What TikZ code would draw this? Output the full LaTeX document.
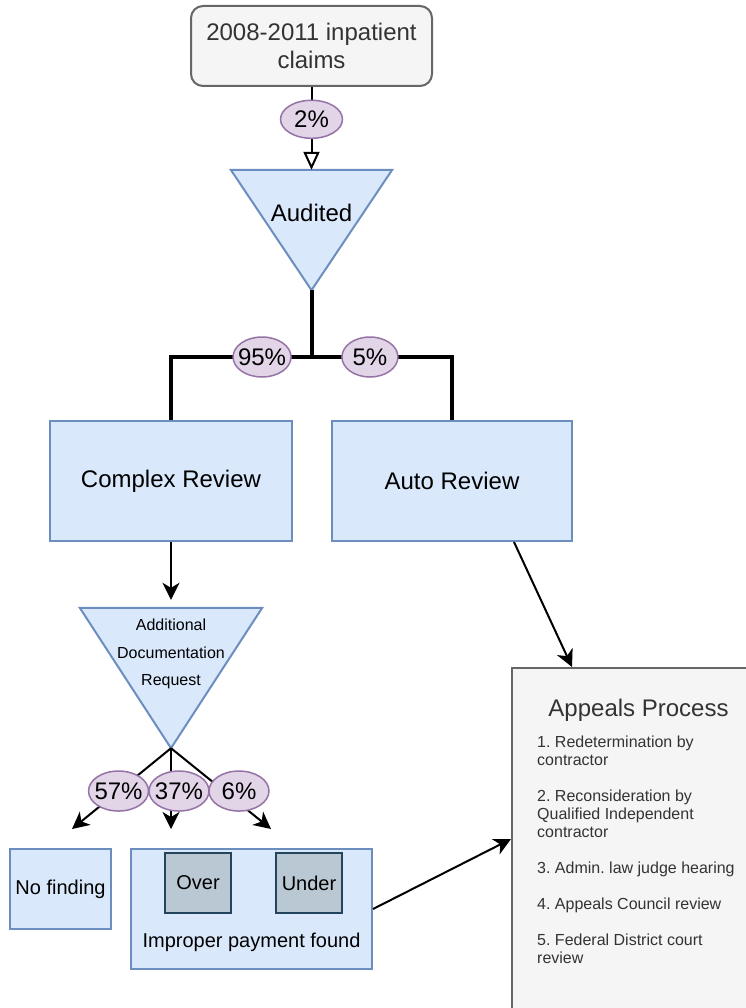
\documentclass[tikz,border=0pt]{standalone}
\usepackage{fontspec}
\setmainfont{Liberation Sans}
\usetikzlibrary{arrows.meta,shapes.geometric}
\definecolor{bluefill}{HTML}{DAE8FC}
\definecolor{bluedraw}{HTML}{6C8EBF}
\definecolor{purfill}{HTML}{E1D5E7}
\definecolor{purdraw}{HTML}{9673A6}
\definecolor{grayfill}{HTML}{F5F5F5}
\definecolor{graydraw}{HTML}{666666}
\definecolor{graytext}{HTML}{333333}
\definecolor{slatefill}{HTML}{BAC8D3}
\definecolor{slatedraw}{HTML}{23445D}
\newcommand\pcttxt[1]{\makebox[0pt]{\raisebox{-0.36em}[0pt][0pt]{#1}}}
\frenchspacing
\begin{document}
\begin{tikzpicture}[x=1pt,y=-1pt,
  bluebox/.style={rectangle, draw=bluedraw, fill=bluefill, line width=2pt, inner sep=0},
  graybox/.style={rectangle, draw=graydraw, fill=grayfill, line width=2pt, inner sep=0, text=graytext},
  slatebox/.style={rectangle, draw=slatedraw, fill=slatefill, line width=2pt, inner sep=0},
  tribox/.style={rectangle, inner sep=0},
  trishape/.style={draw=bluedraw, fill=bluefill, line width=2pt, line join=miter},
  pct/.style={ellipse, draw=purdraw, fill=purfill, line width=1.5pt, inner sep=0, minimum width=60pt, minimum height=40pt, font=\fontsize{24}{28}\selectfont},
  big/.style={font=\fontsize{24}{28}\selectfont},
  mid/.style={font=\fontsize{20}{24}\selectfont},
  arr/.style={line width=2pt, -{Stealth[length=17pt,width=17pt,inset=5pt]}},
  thickline/.style={line width=4pt, line join=miter},
]
\useasboundingbox (0,0) rectangle (745,1008);

% shapes
\node[graybox, rounded corners=12pt, minimum width=241pt, minimum height=80pt, big, align=center] (claims) at (311.5,46) {2008-2011 inpatient\\claims};

\node[tribox, minimum width=161pt, minimum height=120pt] (aud) at (311.5,230) {};
\draw[trishape] (aud.north west) -- (aud.north east) -- (aud.south) -- cycle;
\node[big] (audtxt) at (311.5,213) {Audited};

\node[bluebox, minimum width=242pt, minimum height=120pt, big] (cr) at (171,481) {Complex Review};
\node[bluebox, minimum width=240pt, minimum height=120pt, big] (ar) at (452,481) {Auto Review};

\node[tribox, minimum width=182pt, minimum height=140pt] (adr) at (171,678) {};
\draw[trishape] (adr.north west) -- (adr.north east) -- (adr.south) -- cycle;
\node[font=\fontsize{16}{27.5}\selectfont, align=center] (adrtxt) at (171,654) {Additional\\Documentation\\Request};

\node[bluebox, minimum width=101pt, minimum height=80pt, mid] (nf) at (60.5,889) {No finding};
\node[bluebox, minimum width=241pt, minimum height=120pt] (imp) at (251.5,909) {};
\node[slatebox, minimum width=66pt, minimum height=60pt, mid] (over) at (198,883) {Over};
\node[slatebox, minimum width=66pt, minimum height=60pt, mid] (under) at (309,883) {Under};
\node[mid] (imptxt) at (251.5,942) {Improper payment found};

\node[graybox, minimum width=250pt, minimum height=400pt] (app) at (637,868) {};
\node[big, text=graytext] (apptitle) at (638.5,710) {Appeals Process};
\node[anchor=north west, inner sep=0, align=left, text=graytext, font=\fontsize{16}{18}\selectfont] (applist) at (537,736) {1. Redetermination by\\contractor\\[18pt]2. Reconsideration by\\Qualified Independent\\contractor\\[18pt]3. Admin. law judge hearing\\[18pt]4. Appeals Council review\\[18pt]5. Federal District court\\review};

% connectors
\draw[line width=2pt, -{Triangle[open,length=18pt,width=16pt]}] (claims.south) -- node[pct, pos=0.39, minimum width=62pt, minimum height=38pt]{\pcttxt{2\%}} (aud.north);

\coordinate (split) at (311.5,357);
\draw[thickline] (aud.south) -- (split);
\draw[thickline] (split) -| node[pct, pos=0.176, minimum width=58pt]{\pcttxt{95\%}} (cr.north);
\draw[thickline] (split) -| node[pct, pos=0.208, minimum width=56pt]{\pcttxt{5\%}} (ar.north);

\draw[arr] (cr.south) -- ([yshift=8pt]adr.north);

\coordinate (t1) at (72,829);
\coordinate (t2) at (171,829);
\coordinate (t3) at (271,829);
\draw[arr] (adr.south) -- node[pct, pos=0.53, xshift=15pt]{\pcttxt{6\%}} (t3);
\draw[arr] (adr.south) -- node[pct, pos=0.53, xshift=8pt]{\pcttxt{37\%}} (t2);
\draw[arr] (adr.south) -- node[pct, pos=0.53]{\pcttxt{57\%}} (t1);

\draw[arr] ([xshift=62pt]ar.south) -- ([xshift=61pt]app.north west);
\draw[arr] (imp.east) -- ([yshift=29pt]app.west);
\end{tikzpicture}
\end{document}
